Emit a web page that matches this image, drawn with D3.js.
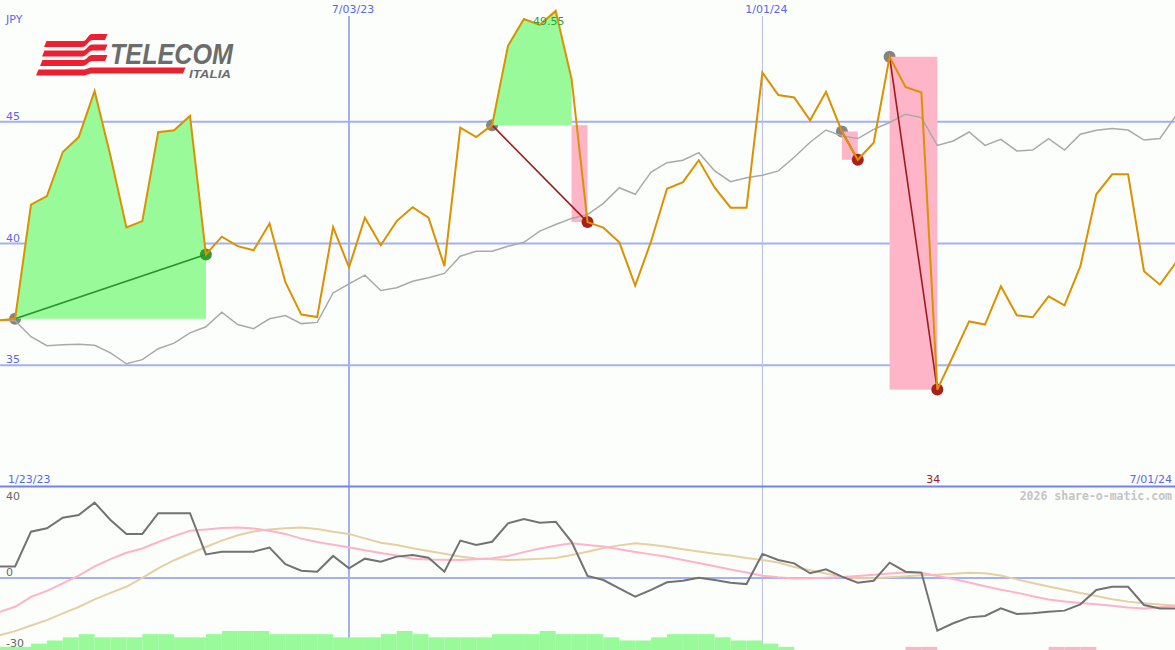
<!DOCTYPE html>
<html>
<head>
<meta charset="utf-8">
<script src="https://cdn.jsdelivr.net/npm/d3@7"></script>
<style>
  html, body { margin:0; padding:0; background:#fcfefc; }
  svg { display:block; }
</style>
</head>
<body>
<div id="chart"></div>
<script>
// weekly closes, Mondays from 1/30/23
const firstWeek = '2023-01-30'
const weekCount = 75

const price = [36.85, 36.91, 41.60, 41.95, 43.76, 44.37, 46.26, 43.59, 40.66, 40.92,
  44.57, 44.65, 45.24, 39.55, 40.28, 39.89, 39.72, 40.82, 38.41, 37.08,
  36.98, 40.67, 39.02, 41.06, 39.93, 40.92, 41.49, 41.06, 39.07, 44.76,
  44.37, 44.86, 48.12, 49.22, 48.98, 49.55, 46.75, 40.88, 40.65, 40.05,
  38.27, 40.09, 42.25, 42.52, 43.42, 42.29, 41.47, 41.47, 47.02, 46.10,
  46.00, 45.06, 46.23, 44.60, 43.44, 44.14, 47.67, 46.43, 46.20, 34.00,
  35.39, 36.80, 36.67, 38.24, 37.05, 36.97, 37.83, 37.46, 39.07, 42.02,
  42.84, 42.84, 38.86, 38.31, 39.21]

const benchmark = [36.85, 36.83, 36.17, 35.80, 35.84, 35.86, 35.82, 35.51, 35.06, 35.23,
  35.68, 35.91, 36.33, 36.58, 37.18, 36.67, 36.50, 36.91, 37.04, 36.71,
  36.76, 37.97, 38.34, 38.70, 38.07, 38.18, 38.45, 38.59, 38.77, 39.48,
  39.68, 39.68, 39.89, 40.05, 40.51, 40.78, 41.03, 41.19, 41.65, 42.29,
  42.02, 42.93, 43.32, 43.42, 43.73, 42.98, 42.54, 42.70, 42.80, 42.98,
  43.54, 44.16, 44.66, 44.42, 44.31, 44.69, 44.97, 45.31, 45.17, 44.03,
  44.21, 44.58, 44.03, 44.28, 43.80, 43.84, 44.31, 43.84, 44.49, 44.65,
  44.72, 44.66, 44.25, 44.31, 45.24]

// lower panel
const momentum = [5.1, 5.1, 20.6, 22.1, 26.8, 28.0, 33.5, 25.8, 19.6, 19.6,
  28.8, 28.8, 28.8, 10.5, 11.7, 11.7, 11.7, 13.5, 6.1, 3.2,
  2.8, 9.8, 4.3, 8.6, 7.2, 9.5, 10.2, 9.0, 2.8, 16.6,
  14.7, 16.1, 24.3, 26.2, 24.6, 25.0, 16.1, 0.9, -0.9, -4.6,
  -8.3, -5.3, -1.9, -1.2, 0.1, -0.9, -2.1, -2.7, 10.7, 8.0,
  6.5, 2.1, 3.9, 0.6, -2.1, -1.2, 6.8, 2.8, 2.4, -23.4,
  -20.1, -17.5, -16.9, -13.5, -16.0, -15.7, -15.0, -14.5, -11.7, -5.3,
  -3.9, -3.9, -12.0, -13.5, -13.5]

const avgFast = [-15.1, -12.8, -8.4, -5.7, -2.4, 1.1, 5.2, 8.4, 11.2, 13.1,
  16.0, 18.6, 21.0, 21.6, 22.2, 22.4, 22.0, 21.0, 19.6, 17.5,
  16.0, 14.8, 13.7, 12.3, 11.1, 10.0, 8.6, 8.2, 8.1, 8.0,
  8.3, 8.8, 9.8, 11.5, 13.1, 14.3, 15.4, 14.7, 14.0, 12.8,
  11.6, 10.5, 9.4, 8.0, 6.7, 5.2, 3.8, 2.4, 1.0, 0.3,
  -0.2, -0.1, 0.1, 0.4, 0.9, 1.4, 2.0, 2.4, 2.3, 0.9,
  -0.4, -2.0, -3.7, -5.2, -6.5, -8.1, -9.6, -10.4, -11.1, -11.7,
  -12.3, -13.1, -13.6, -13.0, -12.3]

const avgSlow = [-25.5, -23.6, -21.1, -18.7, -15.7, -12.9, -9.5, -6.6, -3.9, 0.1,
  4.3, 7.9, 10.9, 13.8, 16.6, 19.0, 20.7, 21.6, 22.1, 22.4,
  21.8, 20.6, 19.6, 17.6, 15.7, 14.7, 13.2, 12.0, 10.8, 9.6,
  8.7, 8.3, 8.0, 8.2, 8.5, 8.9, 10.2, 11.7, 13.3, 14.5,
  15.4, 14.8, 13.9, 12.8, 11.8, 10.8, 10.0, 8.9, 8.0, 6.9,
  4.9, 3.4, 2.0, 0.6, -0.1, -0.1, 0.3, 0.8, 1.2, 1.5,
  1.9, 2.3, 2.1, 1.1, -0.6, -2.2, -3.8, -5.2, -6.7, -8.0,
  -9.4, -10.5, -11.2, -11.8, -12.3]

// bottom bars: + green level, - pink level
const barLevels = [1, 1, 2, 3, 4, 5, 4, 4, 4, 5,
  5, 4, 4, 5, 6, 6, 6, 5, 5, 5,
  5, 4, 4, 4, 5, 6, 5, 4, 4, 4,
  4, 5, 5, 5, 6, 5, 5, 5, 4, 3,
  3, 4, 5, 5, 5, 4, 3, 3, 2, 1,
  0, 0, 0, 0, 0, 0, 0, -1, -1, 0,
  0, 0, 0, 0, 0, 0, -1, -1, -1, 0,
  0, 0, 0, 0, 0]

const events = [
  {from:'2023-02-06', to:'2023-05-01'},
  {from:'2023-09-04', to:'2023-10-16'},
  {from:'2024-02-05', to:'2024-02-12'},
  {from:'2024-02-26', to:'2024-03-18'}
]

const priceTicks = [35, 40, 45]
const lowerTicks = [40, 0, -30]
const dateTicks = ['2023-07-03', '2024-01-01']
const dateRange = ['2023-01-23', '2024-07-01']
const currency = 'JPY'
const credit = '2026 share-o-matic.com'

function draw(){
    const width = 1175, height = 650
    const parse = d3.timeParse('%Y-%m-%d')
    const fmtDate = d3.timeFormat('%-m/%d/%y')
    const fmtVal = d3.format('~f')

    const start = parse(firstWeek)
    const weeks = d3.timeMonday.range(start, d3.timeWeek.offset(start, weekCount))
    const rows = weeks.map((d, i) => ({date:d, price:price[i], bench:benchmark[i],
        mom:momentum[i], fast:avgFast[i], slow:avgSlow[i], bar:barLevels[i]}))
    const idx = s => d3.bisectLeft(weeks, parse(s))

    const svg = d3.select('#chart').append('svg')
        .attr('width', width).attr('height', height)
        .style('background', '#fcfefc')

    const x = d3.scaleTime().domain(dateRange.map(parse)).range([-16.7, 1175.8])
    const y = d3.scaleLinear().domain([30, 50]).range([487, 0])
    const y2 = d3.scaleLinear().domain([-32, 40]).range([650, 488])
    const yBar = d3.scaleLinear().domain([0, 6]).range([650, 631])

    const font = "'DejaVu Sans', sans-serif"
    const blue = '#5966ee'

    // grid
    svg.append('g').selectAll('line').data(priceTicks).join('line')
        .attr('x1', 0).attr('x2', width)
        .attr('y1', d => y(d)).attr('y2', d => y(d))
        .attr('stroke', '#a3b0f2').attr('stroke-width', 2)

    svg.append('line').attr('x1', 0).attr('x2', width)
        .attr('y1', y2(0)).attr('y2', y2(0))
        .attr('stroke', '#a3b0f2').attr('stroke-width', 2)

    svg.append('g').selectAll('line').data(dateTicks).join('line')
        .attr('x1', d => x(parse(d))).attr('x2', d => x(parse(d)))
        .attr('y1', 16).attr('y2', height)
        .attr('stroke', (d, i) => i == 0 ? '#a3b0f2' : '#b6bbe2')
        .attr('stroke-width', (d, i) => i == 0 ? 2 : 1)

    svg.append('line').attr('x1', 0).attr('x2', width)
        .attr('y1', 486.5).attr('y2', 486.5)
        .attr('stroke', '#7282f0').attr('stroke-width', 2)

    // texts
    const label = (txt, px, py, color, anchor) => svg.append('text')
        .attr('x', px).attr('y', py).text(txt)
        .attr('fill', color).attr('text-anchor', anchor || 'start')
        .style('font-family', font).style('font-size', '11px')

    label(currency, 6, 23, blue)
    priceTicks.forEach(t => label(t, 6, y(t) - 2, blue))
    dateTicks.forEach(t => label(fmtDate(parse(t)), x(parse(t)) + 4, 13, blue, 'middle'))
    label(fmtDate(parse(dateRange[0])), 8, 483, blue)
    label(fmtDate(parse(dateRange[1])), 1172, 483, blue, 'end')
    lowerTicks.forEach(t => {
        const py = t == d3.max(lowerTicks) ? y2(t) + 12 : y2(t) + (t < 0 ? 1 : -2)
        label(t, 6, py, '#666666')
    })
    svg.append('text').attr('x', 1172).attr('y', 500).attr('text-anchor', 'end')
        .text(credit).attr('fill', '#c4c4c4')
        .style('font-family', "'DejaVu Sans Mono', monospace")
        .style('font-weight', 'bold').style('font-size', '11.5px')

    // logo
    const logo = svg.append('g')
    const stripe = (yy, rise, x0, x1) => {
        const h = 6, s = 2.5
        return `M${x0 + s},${yy} L83,${yy} C87,${yy} 88,${yy - rise} 92,${yy - rise} L${x1 + s},${yy - rise}` +
            ` L${x1},${yy - rise + h} L93,${yy - rise + h} C88,${yy - rise + h} 87,${yy + h} 82,${yy + h} L${x0},${yy + h} Z`
    }
    ;[[41, 7, 44, 105], [50.5, 6, 42, 105], [60, 5, 40, 105], [69.5, 2, 36, 183]].forEach(p => {
        logo.append('path').attr('d', stripe(...p)).attr('fill', '#ee1f30')
    })
    logo.append('text').attr('x', 110).attr('y', 64).text('TELECOM')
        .attr('textLength', 123).attr('lengthAdjust', 'spacingAndGlyphs')
        .attr('fill', '#6c6c6c').style('font-family', "'Liberation Sans', Arial, sans-serif")
        .style('font-weight', 'bold').style('font-style', 'italic').style('font-size', '30px')
    logo.append('text').attr('x', 189).attr('y', 78).text('ITALIA')
        .attr('textLength', 42).attr('lengthAdjust', 'spacingAndGlyphs')
        .attr('fill', '#6c6c6c').style('font-family', "'Liberation Sans', Arial, sans-serif")
        .style('font-weight', 'bold').style('font-style', 'italic').style('font-size', '11.5px')

    // lower panel bars
    svg.append('g').selectAll('rect').data(rows.filter(d => d.bar != 0)).join('rect')
        .attr('x', d => x(d.date))
        .attr('width', d => x(d3.timeWeek.offset(d.date, 1)) - x(d.date))
        .attr('y', d => yBar(Math.abs(d.bar)))
        .attr('height', d => yBar(0) - yBar(Math.abs(d.bar)))
        .attr('fill', d => d.bar > 0 ? '#98fa98' : '#ffb5c8')

    const line2 = key => d3.line().x(d => x(d.date)).y(d => y2(d[key]))
    svg.append('path').datum(rows).attr('d', line2('slow'))
        .attr('fill', 'none').attr('stroke', '#e6cfa2').attr('stroke-width', 2)
    svg.append('path').datum(rows).attr('d', line2('fast'))
        .attr('fill', 'none').attr('stroke', '#ffb2c8').attr('stroke-width', 2)
    svg.append('path').datum(rows).attr('d', line2('mom'))
        .attr('fill', 'none').attr('stroke', '#727272').attr('stroke-width', 2)

    // main panel: swing events
    const ev = events.map(e => {
        const s = idx(e.from), t = idx(e.to)
        const base = rows[s].price
        let k = s
        while (k + 1 <= t && rows[k + 1].price >= base) k++
        return {s, t, k, base, gain: rows[t].price >= base}
    })

    svg.append('g').selectAll('circle').data(ev).join('circle')
        .attr('cx', d => x(rows[d.s].date)).attr('cy', d => y(d.base))
        .attr('r', 6).attr('fill', '#848484')

    ev.forEach(e => {
        if (e.k > e.s) {
            svg.append('path').datum(rows.slice(e.s, e.k + 1))
                .attr('d', d3.area().x(d => x(d.date)).y0(y(e.base)).y1(d => y(d.price)))
                .attr('fill', '#98fa98')
        }
        if (e.k < e.t) {
            svg.append('rect')
                .attr('x', x(rows[e.k].date)).attr('width', x(rows[e.t].date) - x(rows[e.k].date))
                .attr('y', y(e.base)).attr('height', y(rows[e.t].price) - y(e.base))
                .attr('fill', '#ffb5c8')
        }
    })

    svg.append('path').datum(rows).attr('d', d3.line().x(d => x(d.date)).y(d => y(d.bench)))
        .attr('fill', 'none').attr('stroke', '#a9a9a9').attr('stroke-width', 1.5)

    svg.append('g').selectAll('circle').data(ev).join('circle')
        .attr('cx', d => x(rows[d.t].date)).attr('cy', d => y(rows[d.t].price))
        .attr('r', 6).attr('fill', d => d.gain ? '#2f9f2f' : '#a8201e')

    svg.append('g').selectAll('line').data(ev).join('line')
        .attr('x1', d => x(rows[d.s].date)).attr('y1', d => y(d.base))
        .attr('x2', d => x(rows[d.t].date)).attr('y2', d => y(rows[d.t].price))
        .attr('stroke', d => d.gain ? '#2a922a' : '#a01c1c').attr('stroke-width', 1.6)

    svg.append('path').datum(rows).attr('d', d3.line().x(d => x(d.date)).y(d => y(d.price)))
        .attr('fill', 'none').attr('stroke', '#dc9100').attr('stroke-width', 2)

    // max / min
    const hi = d3.greatest(rows, d => d.price), lo = d3.least(rows, d => d.price)
    label(fmtVal(hi.price), x(hi.date) - 7, 25, '#2f9f2f', 'middle')
    label(fmtVal(lo.price), x(lo.date) - 4, 483, '#a01c1c', 'middle')
}

draw()
</script>
</body>
</html>
